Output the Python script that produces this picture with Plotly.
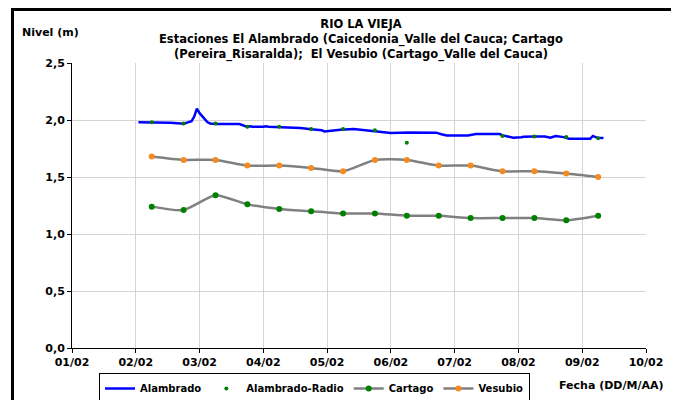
import plotly.graph_objects as go

# ---------------- data ----------------
alambrado_time = [
    "2011-02-02 01:00", "2011-02-02 02:00", "2011-02-02 04:00", "2011-02-02 05:00",
    "2011-02-02 06:00", "2011-02-02 07:00", "2011-02-02 10:00", "2011-02-02 13:00",
    "2011-02-02 17:00", "2011-02-02 18:00", "2011-02-02 19:00", "2011-02-02 21:00",
    "2011-02-02 22:00", "2011-02-02 23:00", "2011-02-03 00:00", "2011-02-03 01:00",
    "2011-02-03 02:00", "2011-02-03 03:00", "2011-02-03 04:00", "2011-02-03 06:00",
    "2011-02-03 15:00", "2011-02-03 17:00", "2011-02-03 18:00", "2011-02-03 19:00",
    "2011-02-03 20:00", "2011-02-04 00:00", "2011-02-04 01:00", "2011-02-04 02:00",
    "2011-02-04 12:00", "2011-02-04 14:00", "2011-02-04 18:00", "2011-02-04 22:00",
    "2011-02-04 23:00", "2011-02-05 01:00", "2011-02-05 05:00", "2011-02-05 10:00",
    "2011-02-05 12:00", "2011-02-05 17:00", "2011-02-05 20:00", "2011-02-06 00:00",
    "2011-02-06 07:00", "2011-02-06 17:00", "2011-02-06 19:00", "2011-02-06 21:00",
    "2011-02-07 05:00", "2011-02-07 07:00", "2011-02-07 08:00", "2011-02-07 17:00",
    "2011-02-07 18:00", "2011-02-07 20:00", "2011-02-07 22:00", "2011-02-08 01:00",
    "2011-02-08 02:00", "2011-02-08 06:00", "2011-02-08 10:00", "2011-02-08 12:00",
    "2011-02-08 14:00", "2011-02-08 17:00", "2011-02-08 19:00", "2011-02-09 03:00",
    "2011-02-09 04:00", "2011-02-09 05:00", "2011-02-09 06:00", "2011-02-09 08:00",
]
alambrado_nivel = [
    1.98, 1.98, 1.975, 1.98,
    1.975, 1.98, 1.975, 1.975,
    1.97, 1.965, 1.975, 1.99,
    2.03, 2.10, 2.06, 2.03,
    2.01, 1.98, 1.97, 1.965,
    1.965, 1.95, 1.94, 1.945,
    1.94, 1.94, 1.945, 1.94,
    1.935, 1.93, 1.918, 1.91,
    1.90, 1.905, 1.915, 1.92,
    1.915, 1.905, 1.895, 1.885,
    1.89, 1.889, 1.875, 1.865,
    1.865, 1.875, 1.877, 1.877,
    1.865, 1.855, 1.845, 1.848,
    1.852, 1.855, 1.855, 1.845,
    1.86, 1.85, 1.835, 1.835,
    1.86, 1.85, 1.845, 1.842,
]

radio_time = [
    "2011-02-02 06:00", "2011-02-02 18:00", "2011-02-03 06:00", "2011-02-03 18:00",
    "2011-02-04 06:00", "2011-02-04 18:00", "2011-02-05 06:00", "2011-02-05 18:00",
    "2011-02-06 06:00", "2011-02-07 18:00", "2011-02-08 06:00", "2011-02-08 18:00",
    "2011-02-09 06:00",
]
radio_nivel = [1.98, 1.97, 1.97, 1.94, 1.94, 1.92, 1.92, 1.91, 1.80, 1.86, 1.855, 1.85, 1.84]

estacion_time = [
    "2011-02-02 06:00", "2011-02-02 18:00", "2011-02-03 06:00", "2011-02-03 18:00",
    "2011-02-04 06:00", "2011-02-04 18:00", "2011-02-05 06:00", "2011-02-05 18:00",
    "2011-02-06 06:00", "2011-02-06 18:00", "2011-02-07 06:00", "2011-02-07 18:00",
    "2011-02-08 06:00", "2011-02-08 18:00", "2011-02-09 06:00",
]
cartago_nivel = [1.24, 1.21, 1.34, 1.26, 1.22, 1.20, 1.18, 1.18, 1.16, 1.16, 1.14, 1.14, 1.14, 1.12, 1.16]
vesubio_nivel = [1.68, 1.65, 1.65, 1.60, 1.60, 1.58, 1.55, 1.65, 1.65, 1.60, 1.60, 1.55, 1.55, 1.53, 1.50]

x_ticks = ["2011-02-%02d" % d for d in range(1, 11)]

title_lines = [
    "RIO LA VIEJA",
    "Estaciones El Alambrado (Caicedonia_Valle del Cauca; Cartago",
    "(Pereira_Risaralda);  El Vesubio (Cartago_Valle del Cauca)",
]

# ---------------- layout helpers ----------------
# The page places the figure 8 px in from the window's top-left corner,
# so all window-pixel positions below are shifted by OFF.
OFF = 8
W, H = 679 - OFF, 400 - OFF
L, R, T, B = 72 - OFF, 646 - OFF, 63 - OFF, 348 - OFF
FONT = "DejaVu Sans, Verdana, sans-serif"


def px(x):
    return (x - OFF - L) / (R - L)


def py(y):
    return (B - (y - OFF)) / (B - T)


fig = go.Figure()

fig.add_trace(go.Scatter(
    x=alambrado_time, y=alambrado_nivel, name="Alambrado", mode="lines",
    line=dict(color="#0000FF", width=2.5),
))
fig.add_trace(go.Scatter(
    x=radio_time, y=radio_nivel, name="Alambrado-Radio", mode="markers",
    marker=dict(color="#008000", size=4),
))
fig.add_trace(go.Scatter(
    x=estacion_time, y=cartago_nivel, name="Cartago", mode="lines+markers",
    line=dict(color="#808080", width=2.5, shape="spline", smoothing=0.6),
    marker=dict(color="#008000", size=6),
))
fig.add_trace(go.Scatter(
    x=estacion_time, y=vesubio_nivel, name="Vesubio", mode="lines+markers",
    line=dict(color="#808080", width=2.5, shape="spline", smoothing=0.6),
    marker=dict(color="#F58B1F", size=6),
))

annotations = [
    dict(
        text="<br>".join("<b>%s</b>" % t for t in title_lines),
        x=px(361), y=py(40), xref="paper", yref="paper",
        xanchor="center", yanchor="middle", align="center", showarrow=False,
        font=dict(family=FONT, size=11.5, color="black"),
    ),
    dict(
        text="<b>Nivel (m)</b>", x=px(20), y=py(33), xref="paper", yref="paper",
        xanchor="left", yanchor="middle", showarrow=False,
        font=dict(family=FONT, size=11, color="black"),
    ),
    dict(
        text="<b>Fecha (DD/M/AA)</b>", x=px(665), y=py(385), xref="paper", yref="paper",
        xanchor="right", yanchor="middle", showarrow=False,
        font=dict(family=FONT, size=11, color="black"),
    ),
]

shapes = [dict(
    type="rect", xref="paper", yref="paper",
    x0=px(12.5), x1=px(673), y0=py(406), y1=py(9.5),
    line=dict(color="black", width=3), fillcolor="rgba(0,0,0,0)",
)]

fig.update_layout(
    width=W, height=H,
    margin=dict(l=L, r=W - R, t=T, b=H - B, pad=0, autoexpand=False),
    paper_bgcolor="white", plot_bgcolor="white",
    separators=",.",
    showlegend=True,
    legend=dict(
        orientation="h", xref="container", yref="container",
        x=(99 - OFF) / W, y=1 - (373 - OFF) / H, xanchor="left", yanchor="top",
        bordercolor="black", borderwidth=1, bgcolor="white",
        font=dict(family=FONT, size=10, color="black", weight="bold"),
        tracegroupgap=0, itemwidth=30,
    ),
    annotations=annotations,
    shapes=shapes,
    font=dict(family=FONT, color="black"),
)

fig.update_xaxes(
    type="date", range=["2011-02-01", "2011-02-10"],
    tickvals=x_ticks, tickformat="%d/%m",
    showgrid=True, gridcolor="#D4D4D4", gridwidth=1,
    showline=True, linecolor="black", linewidth=1,
    ticks="outside", ticklen=4, tickcolor="black",
    tickfont=dict(family=FONT, size=11, color="black", weight="bold"),
    zeroline=False,
)
fig.update_yaxes(
    range=[0, 2.5], tickvals=[0, 0.5, 1.0, 1.5, 2.0, 2.5], tickformat=".1f",
    showgrid=True, gridcolor="#D4D4D4", gridwidth=1,
    showline=True, linecolor="black", linewidth=1,
    ticks="outside", ticklen=4, tickcolor="black",
    tickfont=dict(family=FONT, size=11, color="black", weight="bold"),
    zeroline=False,
)

fig.write_html("out.html")
